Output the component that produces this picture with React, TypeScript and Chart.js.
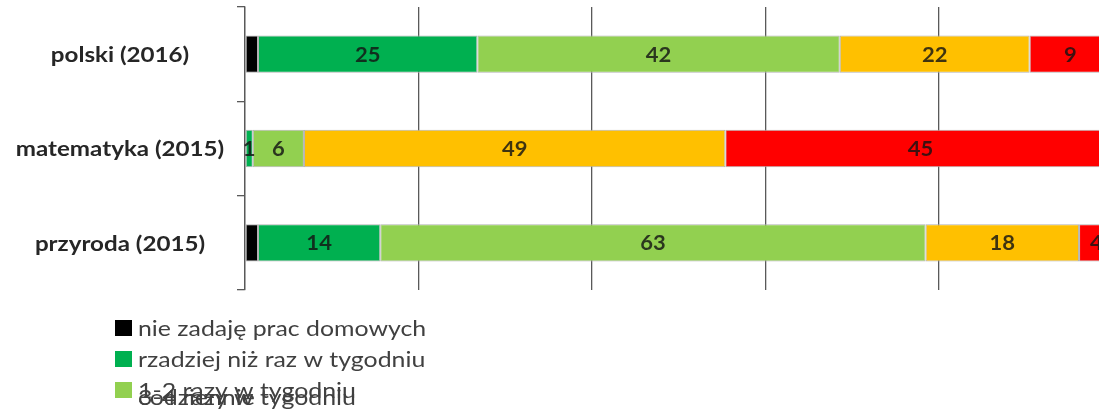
import React, { useEffect, useRef } from "react";
import { Chart, registerables } from "chart.js";

Chart.register(...registerables);

const categories = ["polski (2016)", "matematyka (2015)", "przyroda (2015)"];
const seriesNames = [
  "nie zadaję prac domowych",
  "rzadziej niż raz w tygodniu",
  "1-2 razy w tygodniu",
  "3-4 razy w tygodniu",
  "codziennie",
];
const seriesColors = ["#000000", "#00B050", "#92D050", "#FFC000", "#FF0000"];
const noHomework = [1.5, 0, 1.5];
const lessThanWeekly = [25.3, 0.9, 14.1];
const onceTwiceWeekly = [41.8, 5.9, 62.9];
const threeFourWeekly = [21.9, 48.6, 17.7];
const daily = [9.4, 45, 4];
const showLabels = [false, true, true, true, true];
const xMin = 0;
const xMax = 100;
const xStep = 20;

const seriesValues = [noHomework, lessThanWeekly, onceTwiceWeekly, threeFourWeekly, daily];

const FONT = "Lato, 'Open Sans', sans-serif";
const SX = 1.15;

function drawText(ctx: any, text: string, x: number, y: number, align: string, sx: number) {
  ctx.save();
  ctx.translate(x, y);
  ctx.scale(sx, 1);
  ctx.textAlign = align;
  ctx.fillText(text, 0, 0);
  ctx.restore();
}

const labelPlugin = {
  id: "barLabels",
  afterDatasetsDraw(chart: any) {
    const ctx = chart.ctx;
    ctx.save();
    ctx.font = `bold 20px ${FONT}`;
    ctx.fillStyle = "rgba(20,20,20,0.82)";
    ctx.textBaseline = "middle";
    chart.data.datasets.forEach((ds: any, di: number) => {
      if (!showLabels[di]) return;
      const meta = chart.getDatasetMeta(di);
      meta.data.forEach((el: any, i: number) => {
        const v = ds.data[i];
        if (!v) return;
        const x = (el.x + el.base) / 2;
        drawText(ctx, String(Math.round(v)), x, el.y + 1, "center", 1.1);
      });
    });
    ctx.restore();
  },
};

const axisLabelPlugin = {
  id: "catLabels",
  afterDraw(chart: any) {
    const ctx = chart.ctx;
    const y = chart.scales.y;
    ctx.save();
    ctx.font = `bold 21px ${FONT}`;
    ctx.fillStyle = "#262626";
    ctx.textBaseline = "middle";
    categories.forEach((c, i) => {
      drawText(ctx, c, 120, y.getPixelForValue(i) + 1, "center", SX);
    });
    ctx.restore();
  },
};

const legendPlugin = {
  id: "overlapLegend",
  afterDraw(chart: any) {
    const ctx = chart.ctx;
    ctx.save();
    ctx.font = `22px ${FONT}`;
    ctx.textBaseline = "alphabetic";
    const rows = [
      { idx: 3, base: 405, square: false },
      { idx: 4, base: 405, square: false },
      { idx: 0, base: 336, square: true },
      { idx: 1, base: 367, square: true },
      { idx: 2, base: 398, square: true },
    ];
    rows.forEach((r) => {
      if (r.square) {
        ctx.fillStyle = seriesColors[r.idx];
        ctx.fillRect(115, r.base - 16, 17, 16);
      }
      ctx.fillStyle = "#404040";
      drawText(ctx, seriesNames[r.idx], 138, r.base, "left", 1.13);
    });
    ctx.restore();
  },
};

export default function App() {
  const ref = useRef<HTMLCanvasElement>(null);
  useEffect(() => {
    if (!ref.current) return;
    const chart = new Chart(ref.current, {
      type: "bar",
      data: {
        labels: categories,
        datasets: seriesValues.map((vals, i) => ({
          label: seriesNames[i],
          data: vals,
          backgroundColor: seriesColors[i],
          borderColor: "#b4b4b4",
          borderWidth: 1,
          borderSkipped: false,
          categoryPercentage: 1,
          barPercentage: 0.395,
        })),
      },
      options: {
        indexAxis: "y",
        responsive: false,
        animation: false,
        devicePixelRatio: 1,
        layout: { padding: { top: 7, bottom: 121, left: 0, right: 0 } },
        plugins: { legend: { display: false }, tooltip: { enabled: false } },
        scales: {
          x: {
            stacked: true,
            min: xMin,
            max: xMax,
            ticks: { display: false, stepSize: xStep },
            grid: { color: "#595959", lineWidth: 1.3, drawTicks: false },
            border: { display: false },
            afterFit: (s: any) => {
              s.height = 0;
            },
          },
          y: {
            stacked: true,
            grid: {
              offset: true,
              drawOnChartArea: false,
              drawTicks: true,
              tickLength: 8,
              color: "#595959",
              lineWidth: 1.3,
            },
            border: { display: true, color: "#595959", width: 1.3 },
            ticks: { display: false },
            afterFit: (s: any) => {
              s.width = 245;
            },
          },
        },
      },
      plugins: [labelPlugin, axisLabelPlugin, legendPlugin],
    } as any);
    return () => chart.destroy();
  }, []);
  return (
    <div
      style={{
        position: "fixed",
        left: 0,
        top: 0,
        width: 1099,
        height: 411,
        overflow: "hidden",
        background: "#fff",
      }}
    >
      <canvas ref={ref} width={1112} height={411} style={{ width: 1112, height: 411, display: "block" }} />
    </div>
  );
}
